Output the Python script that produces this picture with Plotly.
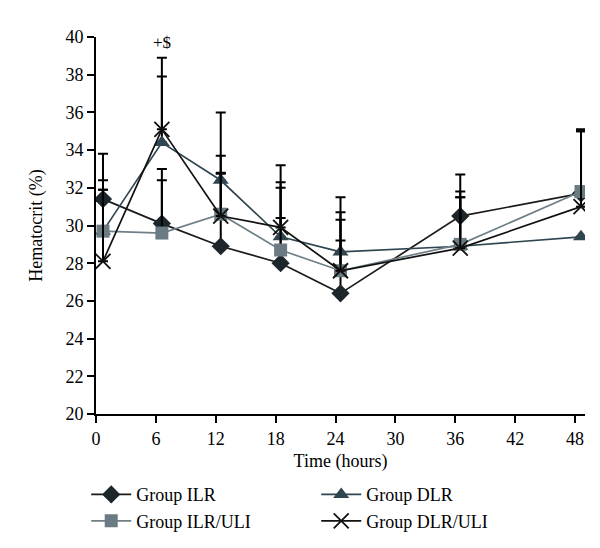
import plotly.graph_objects as go

time_h = [0.7, 6.6, 12.5, 18.5, 24.5, 36.5, 48.6]

ilr_mean = [31.4, 30.1, 28.9, 28.0, 26.4, 30.5, 31.7]
ilr_sd = [2.4, 2.9, 3.85, 2.4, 2.8, 2.2, 3.3]

dlr_mean = [29.7, 34.4, 32.4, 29.4, 28.6, 28.9, 29.4]
dlr_sd = [2.2, 3.5, 3.6, 2.9, 2.9, 2.6, 0.0]

ilr_uli_mean = [29.7, 29.6, 30.6, 28.7, 27.6, 29.0, 31.8]
ilr_uli_sd = [2.2, 2.8, 3.1, 3.3, 2.7, 2.8, 3.3]

dlr_uli_mean = [28.1, 35.1, 30.5, 29.9, 27.6, 28.8, 31.0]
dlr_uli_sd = [4.3, 3.8, 2.3, 3.3, 3.1, 2.7, 4.0]

x_ticks = [0, 6, 12, 18, 24, 30, 36, 42, 48]
y_ticks = [20, 22, 24, 26, 28, 30, 32, 34, 36, 38, 40]

FONT = "Liberation Serif"

series = [
    ("Group ILR", ilr_mean, ilr_sd, "diamond", "#1c262b", "#1a1a1a", 14),
    ("Group DLR", dlr_mean, dlr_sd, "triangle-up", "#2f4550", "#2f454f", 14),
    ("Group ILR/ULI", ilr_uli_mean, ilr_uli_sd, "square", "#6b7b83", "#6f7f87", 13),
    ("Group DLR/ULI", dlr_uli_mean, dlr_uli_sd, "x-thin-open", "#111111", "#111111", 15),
]

fig = go.Figure()
for name, mean, sd, sym, mcol, lcol, size in series:
    marker = dict(symbol=sym, size=size, color=mcol)
    if sym == "x-thin-open":
        marker["line"] = dict(color=mcol, width=1.8)
    else:
        marker["line"] = dict(width=0)
    fig.add_trace(go.Scatter(
        x=time_h, y=mean, name=name, mode="lines+markers",
        line=dict(color=lcol, width=1.7),
        marker=marker,
        error_y=dict(type="data", array=sd, symmetric=False, arrayminus=[0] * len(sd),
                     color="#000000", thickness=2, width=5),
    ))

fig.add_annotation(x=time_h[1], y=39.7, text="+$", showarrow=False,
                   font=dict(family=FONT, size=17, color="#000000"))

fig.update_layout(
    width=600, height=548,
    margin=dict(l=88, r=23, t=29, b=142),
    paper_bgcolor="white", plot_bgcolor="white",
    font=dict(family=FONT, size=17, color="#000000"),
    showlegend=True,
    legend=dict(orientation="h", x=-0.02, xanchor="left", y=-0.165, yanchor="top",
                entrywidth=175, entrywidthmode="pixels", traceorder="normal",
                font=dict(family=FONT, size=18), tracegroupgap=0, itemwidth=40),
)
fig.update_xaxes(range=[0, 49], tickvals=x_ticks, ticks="outside", ticklen=7, tickwidth=2,
                 tickcolor="#000000", showline=True, linecolor="#000000", linewidth=2,
                 showgrid=False, zeroline=False,
                 title=dict(text="Time (hours)", font=dict(family=FONT, size=18), standoff=7),
                 tickfont=dict(family=FONT, size=18))
fig.update_yaxes(range=[20, 40], tickvals=y_ticks, ticks="outside", ticklen=7, tickwidth=2,
                 tickcolor="#000000", showline=True, linecolor="#000000", linewidth=2,
                 showgrid=False, zeroline=False,
                 title=dict(text="Hematocrit (%)", font=dict(family=FONT, size=18), standoff=18),
                 tickfont=dict(family=FONT, size=18))

fig.write_html("out.html")
